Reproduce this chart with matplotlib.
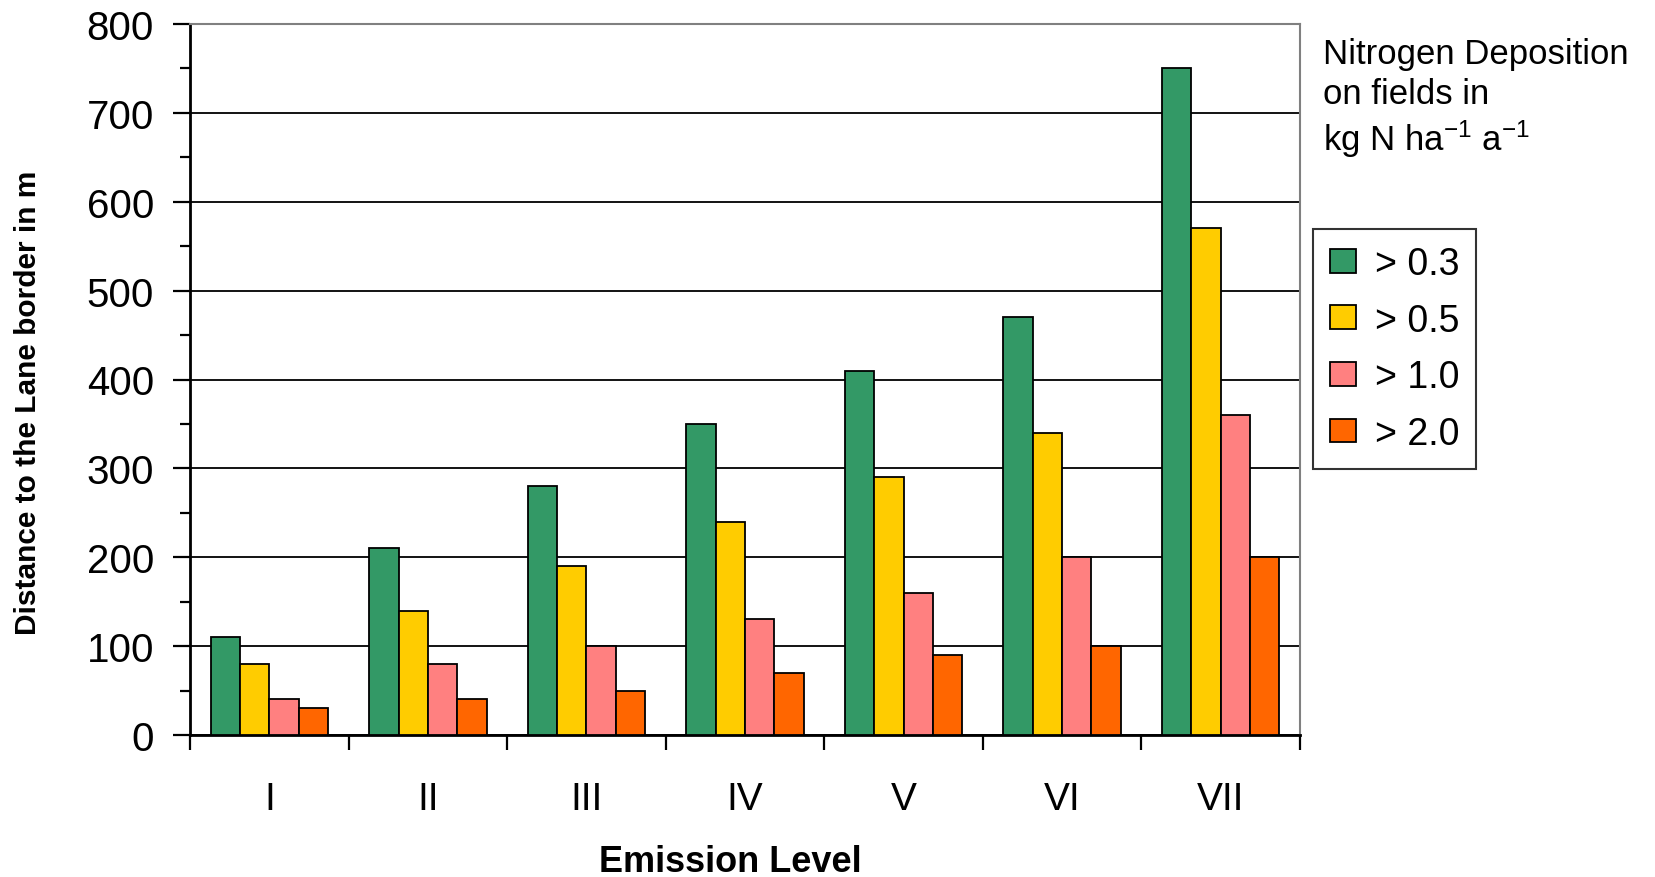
import matplotlib
matplotlib.use("Agg")
import matplotlib.pyplot as plt
from matplotlib.ticker import MultipleLocator, FixedLocator, NullFormatter
import numpy as np

plt.rcParams['font.family'] = ['Liberation Sans', 'DejaVu Sans']
plt.rcParams['mathtext.default'] = 'regular'

# Emission levels and distances (m) per nitrogen-deposition threshold
levels = ["I", "II", "III", "IV", "V", "VI", "VII"]
series_labels = ["> 0.3", "> 0.5", "> 1.0", "> 2.0"]
dist_03 = [110, 210, 280, 350, 410, 470, 750]
dist_05 = [80, 140, 190, 240, 290, 340, 570]
dist_10 = [40, 80, 100, 130, 160, 200, 360]
dist_20 = [30, 40, 50, 70, 90, 100, 200]
colors = ["#339966", "#FFCC00", "#FF8080", "#FF6600"]

W, H = 1655, 878
fig = plt.figure(figsize=(W / 100, H / 100), dpi=100)
ax = fig.add_axes([190 / W, 1 - 736 / H, (1300 - 190) / W, (736 - 25) / H])

x = np.arange(len(levels)) + 0.5
bar_w = 0.185
handles = []
for k, (vals, col, lab) in enumerate(zip([dist_03, dist_05, dist_10, dist_20], colors, series_labels)):
    b = ax.bar(x + (k - 1.5) * bar_w, vals, width=bar_w, color=col,
               edgecolor="black", linewidth=1.3, label=lab, zorder=3)
    handles.append(b)

ax.set_xlim(0, len(levels))
ax.set_ylim(0, 800)

# y axis: labelled every 100, minor ticks every 50
ax.yaxis.set_major_locator(MultipleLocator(100))
ax.yaxis.set_minor_locator(MultipleLocator(50))
ax.tick_params(axis="y", which="major", length=12, width=1.6, pad=14,
               labelsize=29, direction="out", color="black")
ax.tick_params(axis="y", which="minor", length=7, width=1.6, direction="out")

# x axis: ticks at category boundaries, labels centred in each category
ax.xaxis.set_major_locator(FixedLocator(np.arange(len(levels) + 1)))
ax.xaxis.set_major_formatter(NullFormatter())
ax.xaxis.set_minor_locator(FixedLocator(x))
ax.set_xticklabels(levels, minor=True)
ax.tick_params(axis="x", which="major", length=11, width=1.6, direction="out")
ax.tick_params(axis="x", which="minor", length=0, pad=33, labelsize=28)

ax.yaxis.grid(True, which="major", color="black", linewidth=1.3, zorder=0)
ax.set_axisbelow(True)

for side in ("left", "bottom"):
    ax.spines[side].set_color("black")
    ax.spines[side].set_linewidth(2.0)
for side in ("top", "right"):
    ax.spines[side].set_color("#808080")
    ax.spines[side].set_linewidth(1.5)

fig.text(28 / W, 1 - 403 / H, "Distance to the Lane border in m", rotation=90,
         ha="center", va="center", fontsize=21.5, fontweight="bold")
fig.text(730 / W, 1 - 872 / H, "Emission Level", ha="center", va="baseline",
         fontsize=26, fontweight="bold")

fig.text(1323 / W, 1 - 38 / H,
         "Nitrogen Deposition\non fields in\nkg N ha$^{-1}$ a$^{-1}$",
         ha="left", va="top", fontsize=25, linespacing=1.25)

leg = fig.legend(handles=handles, labels=series_labels, loc="upper left",
                 bbox_to_anchor=(1313 / W, 1 - 230 / H), borderaxespad=0,
                 fontsize=27, frameon=True, fancybox=False, shadow=False,
                 handlelength=0.7, handleheight=0.6, handletextpad=0.5,
                 labelspacing=0.55, borderpad=0.45)
leg.get_frame().set_edgecolor("black")
leg.get_frame().set_linewidth(1.5)

fig.savefig("out.png", dpi=100)
